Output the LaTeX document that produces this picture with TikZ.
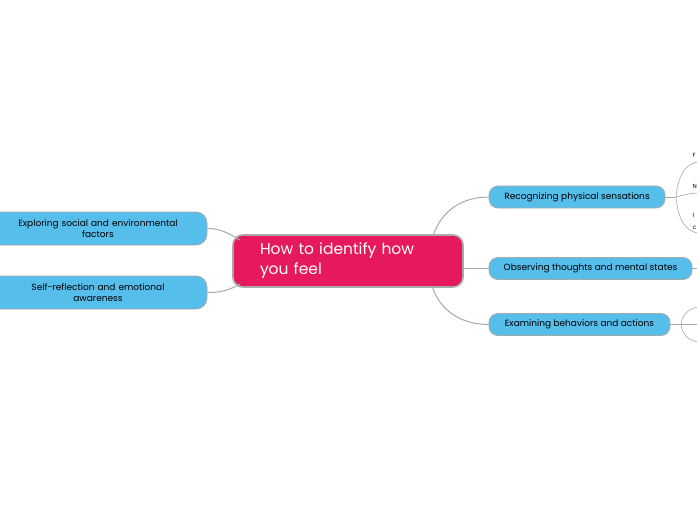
\documentclass[tikz,border=0pt]{standalone}
\usepackage{fontspec}
\setmainfont{Poppins}
\usetikzlibrary{positioning,calc}
\definecolor{rootpink}{HTML}{E5195C}
\definecolor{topicblue}{HTML}{55BEEB}
\definecolor{edgegray}{HTML}{A9A9A9}

\begin{document}
\begin{tikzpicture}[x=1pt, y=-1pt,
  root/.style={rectangle, draw=edgegray, line width=1.6pt, fill=rootpink, text=white, rounded corners=10pt, minimum width=230pt, minimum height=52pt, text width=176pt, inner xsep=27pt, align=left, font=\fontsize{15.5}{20}\selectfont},
  topic/.style={rectangle, draw=edgegray, line width=0.8pt, fill=topicblue, rounded corners=9pt, minimum height=22pt, inner xsep=0pt, align=center, font=\fontsize{9}{11}\selectfont},
  sidetopic/.style={topic, minimum width=218pt, minimum height=33pt, text width=200pt, rounded corners=11pt},
  leaf/.style={font=\fontsize{6}{12}\selectfont, anchor=west, inner sep=0pt},
  link/.style={draw=edgegray, line width=1pt}
]
  \useasboundingbox (0,0) rectangle (697,520);
  \fill[white] (0,0) rectangle (697,520);

  % central idea
  \node[root] (centre) at (348,261) {How to identify how\\you feel};

  % right side topics
  \node[topic, minimum width=176pt] (physical) at (577,197) {Recognizing physical sensations};
  \node[topic, minimum width=203pt] (thoughts) at (590.5,268.5) {Observing thoughts and mental states};
  \node[topic, minimum width=181pt] (behaviour) at (579.5,324.5) {Examining behaviors and actions};

  % left side topics
  \node[sidetopic] (social) at (98,228.5) {Exploring social and environmental\\factors};
  \node[sidetopic] (reflect) at (98,292.5) {Self-reflection and emotional\\awareness};

  % connectors from the centre
  \coordinate (cTR) at (433,236);
  \coordinate (cBR) at (432,286);
  \coordinate (cTL) at (240,240);
  \coordinate (cBL) at (240,284);
  \draw[link] (cTR) to[out=72, in=180] (physical.west);
  \draw[link] (centre.east |- thoughts.west) -- (thoughts.west);
  \draw[link] (cBR) to[out=-72, in=180] (behaviour.west);
  \draw[link] (cTL) to[out=150, in=0] (social.east);
  \draw[link] (cBL) to[out=-150, in=0] (reflect.east);

  % leaves of physical sensations
  \coordinate (pStem) at (676,197);
  \coordinate (pLeafA) at (700,162);
  \coordinate (pLeafB) at (700,193);
  \coordinate (pLeafC) at (700,233);
  \draw[link, line width=0.6pt] (physical.east) -- (pStem);
  \draw[link, line width=0.6pt] (pStem) to[out=85, in=180] (pLeafA);
  \draw[link, line width=0.6pt] (pStem) to[out=15, in=180] (pLeafB);
  \draw[link, line width=0.6pt] (pStem) to[out=-85, in=180] (pLeafC);
  \node[leaf] (leafF) at (692.5,155) {F};
  \node[leaf] (leafN) at (692.5,186) {N};
  \node[leaf, align=left] (leafI) at (692.5,221) {I\\c};

  % leaf of mental states
  \coordinate (tLeaf) at (700,268.5);
  \draw[link, line width=0.6pt] (thoughts.east) -- (tLeaf);

  % leaves of behaviors
  \coordinate (bStem) at (681,324.5);
  \coordinate (bLeafA) at (700,307);
  \coordinate (bLeafB) at (700,324.5);
  \coordinate (bLeafC) at (700,342);
  \draw[link, line width=0.6pt] (behaviour.east) -- (bLeafB);
  \draw[link, line width=0.6pt] (bStem) to[out=85, in=180] (bLeafA);
  \draw[link, line width=0.6pt] (bStem) to[out=-85, in=180] (bLeafC);
\end{tikzpicture}
\end{document}
